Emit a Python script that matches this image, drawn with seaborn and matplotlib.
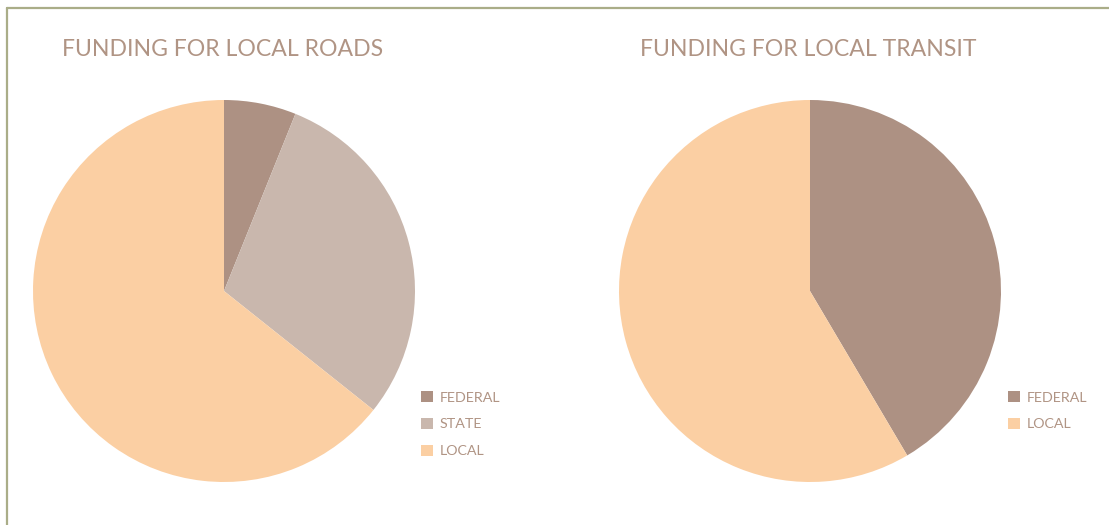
import matplotlib
matplotlib.use("Agg")
import matplotlib.pyplot as plt
from matplotlib.lines import Line2D
from matplotlib.patches import Patch
import seaborn as sns

# data
roads_labels = ["FEDERAL", "STATE", "LOCAL"]
roads_values = [6.1, 29.6, 64.3]
transit_labels = ["FEDERAL", "LOCAL"]
transit_values = [41.5, 58.5]

colors = {"FEDERAL": "#ad9183", "STATE": "#c9b7ad", "LOCAL": "#fbcfa3"}
text_color = "#b09484"
border_color = "#aaad88"

sns.set_theme(style="white")
plt.rcParams["font.family"] = ["Lato", "DejaVu Sans"]

W, H = 1109, 525
fig = plt.figure(figsize=(W / 100, H / 100), dpi=100)
fig.patch.set_facecolor("white")

# frame lines (top and left)
fig.add_artist(Line2D([7 / W, 7 / W], [0, 1 - 8 / H], color=border_color, lw=1.6, transform=fig.transFigure))
fig.add_artist(Line2D([7 / W, 1], [1 - 8 / H, 1 - 8 / H], color=border_color, lw=1.6, transform=fig.transFigure))


def draw_pie(cx, cy, r, labels, values, title, title_x, legend_x):
    ax = fig.add_axes([(cx - r) / W, 1 - (cy + r) / H, 2 * r / W, 2 * r / H])
    ax.pie(values, colors=[colors[l] for l in labels], startangle=90,
           counterclock=False, radius=1, wedgeprops=dict(linewidth=0))
    ax.set_xlim(-1, 1)
    ax.set_ylim(-1, 1)
    ax.set_aspect("equal")
    ax.axis("off")
    fig.text(title_x / W, 1 - 49 / H, title, color=text_color, fontsize=16.6,
             va="center", ha="left")
    handles = [Patch(facecolor=colors[l], edgecolor="none") for l in labels]
    fig.legend(handles, labels, loc="upper left",
               bbox_to_anchor=(legend_x / W, 1 - 378 / H), frameon=False,
               fontsize=10.3, labelcolor=text_color, handlelength=0.85,
               handleheight=0.85, handletextpad=0.45, labelspacing=1.0,
               borderpad=0.4)


draw_pie(224, 291, 191, roads_labels, roads_values,
         "FUNDING FOR LOCAL ROADS", 62, 408)
draw_pie(810, 291, 191, transit_labels, transit_values,
         "FUNDING FOR LOCAL TRANSIT", 640, 995)

fig.savefig("out.png", dpi=100, facecolor="white")
